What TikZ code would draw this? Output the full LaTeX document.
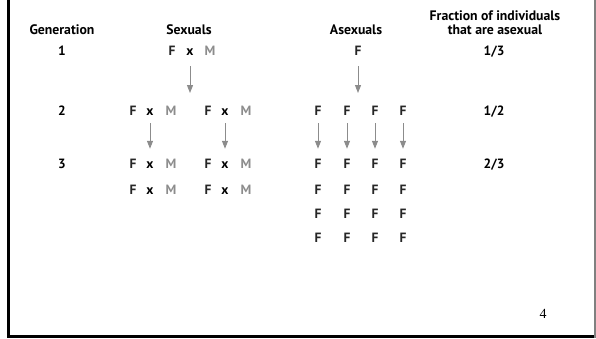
\documentclass[tikz,border=0pt]{standalone}
\usepackage{fontspec}
\setmainfont{Liberation Serif}
\newfontfamily\slidesans{PT Sans}
\usetikzlibrary{arrows.meta}

\begin{document}
\begin{tikzpicture}[
    x = 1bp,
    y = -1bp,
    head/.style = {
        font = \slidesans\bfseries\fontsize{13.8}{14}\selectfont,
        text = black,
        align = center,
        anchor = base,
        inner sep = 1bp
    },
    letter/.style = {
        font = \slidesans\bfseries\fontsize{13.5}{14}\selectfont,
        text height = 9bp,
        text depth = 0bp,
        anchor = base,
        inner sep = 1bp
    },
    female/.style = {
        letter,
        text = black!85
    },
    cross/.style = {
        letter,
        text = black
    },
    male/.style = {
        letter,
        text = black!45
    },
    arrow/.style = {
        -{Triangle[width = 6bp, length = 8bp]},
        draw = black!45,
        fill = black!45,
        line width = 1bp
    }
]
    \useasboundingbox (0,0) rectangle (596,338);

    % slide frame
    \draw [line width = 2.5bp, black] (8.5,0) -- (8.5,336.5) -- (594,336.5);
    \draw [line width = 2bp, black!50] (594.5,0) -- (594.5,337.5);

    % Column headings
    \node [head] (hgen) at (62,34) {Generation};
    \node [head] (hsex) at (189,34) {Sexuals};
    \node [head] (hasex) at (356,34) {Asexuals};
    \node [head] (hfrac1) at (495,20) {Fraction of individuals};
    \node [head] (hfrac2) at (495,34) {that are asexual};

    % Generation numbers
    \node [letter] (g1) at (62,55.5) {1};
    \node [letter] (g2) at (62,115.5) {2};
    \node [letter] (g3) at (62,168.5) {3};

    % Sexuals, generation 1
    \node [female] (s1f) at (172,55.5) {F};
    \node [cross] (s1x) at (190,55.5) {x};
    \node [male] (s1m) at (210,55.5) {M};
    \coordinate (s2gap) at (190,111);

    % Sexuals, generation 2
    \node [female] (s2af) at (133,115.5) {F};
    \node [cross] (s2ax) at (150,115.5) {x};
    \node [male] (s2am) at (171,115.5) {M};
    \node [female] (s2bf) at (208,115.5) {F};
    \node [cross] (s2bx) at (225,115.5) {x};
    \node [male] (s2bm) at (246,115.5) {M};

    % Sexuals, generation 3
    \node [female] (s3af) at (133,168.5) {F};
    \node [cross] (s3ax) at (150,168.5) {x};
    \node [male] (s3am) at (171,168.5) {M};
    \node [female] (s3bf) at (208,168.5) {F};
    \node [cross] (s3bx) at (225,168.5) {x};
    \node [male] (s3bm) at (246,168.5) {M};
    \node [female] (s3cf) at (133,194.5) {F};
    \node [cross] (s3cx) at (150,194.5) {x};
    \node [male] (s3cm) at (171,194.5) {M};
    \node [female] (s3df) at (208,194.5) {F};
    \node [cross] (s3dx) at (225,194.5) {x};
    \node [male] (s3dm) at (246,194.5) {M};

    % Asexuals, generation 1
    \node [female] (a1) at (358,55.5) {F};
    \coordinate (a2gap) at (358,111);

    % Asexuals, generation 2
    \node [female] (a2a) at (318,115.5) {F};
    \node [female] (a2b) at (347,115.5) {F};
    \node [female] (a2c) at (375,115.5) {F};
    \node [female] (a2d) at (403,115.5) {F};

    % Asexuals, generation 3
    \node [female] (a3a) at (318,168.5) {F};
    \node [female] (a3b) at (347,168.5) {F};
    \node [female] (a3c) at (375,168.5) {F};
    \node [female] (a3d) at (403,168.5) {F};
    \node [female] (a3e) at (318,194.5) {F};
    \node [female] (a3f) at (347,194.5) {F};
    \node [female] (a3g) at (375,194.5) {F};
    \node [female] (a3h) at (403,194.5) {F};
    \node [female] (a3i) at (318,218) {F};
    \node [female] (a3j) at (347,218) {F};
    \node [female] (a3k) at (375,218) {F};
    \node [female] (a3l) at (403,218) {F};
    \node [female] (a3m) at (318,242.5) {F};
    \node [female] (a3n) at (347,242.5) {F};
    \node [female] (a3o) at (375,242.5) {F};
    \node [female] (a3p) at (403,242.5) {F};

    % Fractions
    \node [letter] (f1) at (494,55.5) {1/3};
    \node [letter] (f2) at (494,115.5) {1/2};
    \node [letter] (f3) at (494,168.5) {2/3};

    % slide number
    \node [font = \fontsize{14}{16}\selectfont, anchor = base] (pagenum) at (543,318) {4};

    % Arrows between generations
    \draw [arrow, shorten <= 9.5bp, shorten >= 18bp] (s1x) -- (s2gap);
    \draw [arrow, shorten <= 9.5bp, shorten >= 18bp] (a1) -- (a2gap);
    \draw [arrow, shorten <= 6.5bp, shorten >= 9.5bp] (s2ax) -- (s3ax);
    \draw [arrow, shorten <= 6.5bp, shorten >= 9.5bp] (s2bx) -- (s3bx);
    \draw [arrow, shorten <= 6.5bp, shorten >= 9.5bp] (a2a) -- (a3a);
    \draw [arrow, shorten <= 6.5bp, shorten >= 9.5bp] (a2b) -- (a3b);
    \draw [arrow, shorten <= 6.5bp, shorten >= 9.5bp] (a2c) -- (a3c);
    \draw [arrow, shorten <= 6.5bp, shorten >= 9.5bp] (a2d) -- (a3d);

\end{tikzpicture}
\end{document}
